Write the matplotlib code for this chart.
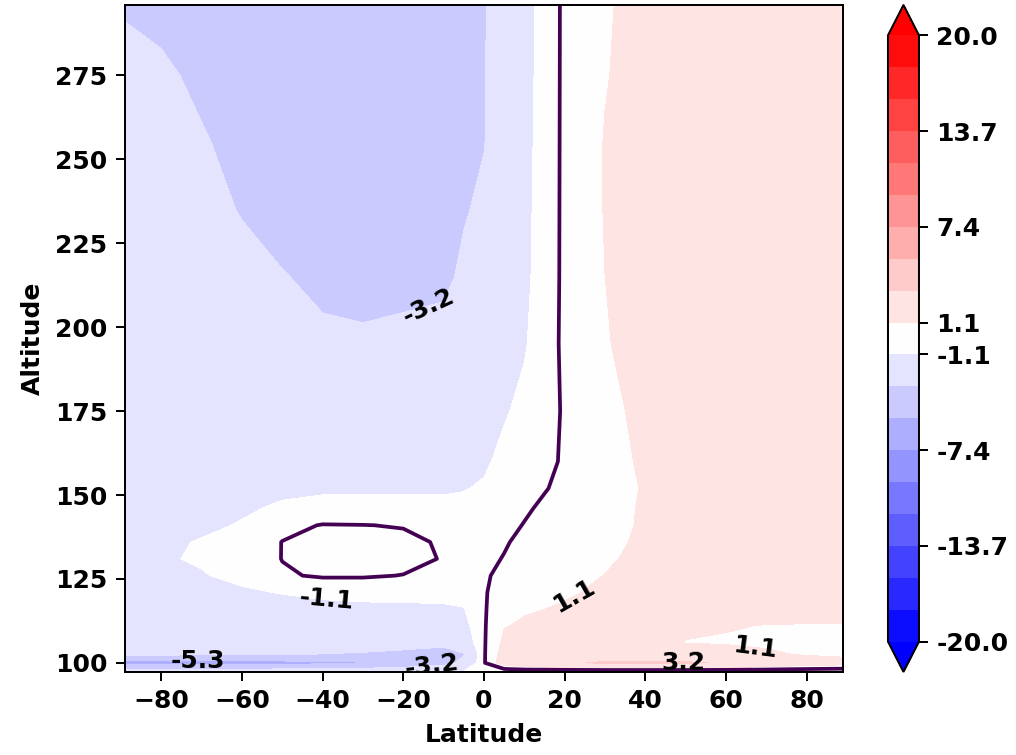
import matplotlib
matplotlib.use("Agg")
import matplotlib.pyplot as plt
import numpy as np

plt.rcParams["font.family"] = ["DejaVu Sans"]
plt.rcParams["font.weight"] = "bold"
plt.rcParams["axes.labelweight"] = "bold"
plt.rcParams["font.size"] = 10

# Grid of the zonal-mean field (latitude columns, altitude rows)
latitude = [-89, -80, -70, -60, -50, -40, -30, -20, -10, -5, 0,
            5, 10, 20, 30, 40, 50, 60, 70, 80, 89]
altitude = [97.3, 100, 102.5, 106, 111, 116, 121, 126, 131, 136, 141,
            146, 152, 160, 175, 195, 215, 235, 255, 275, 296]

# one row per altitude, bottom to top
field = [
    [-2.0, -2.0, -2.0, -1.9, -1.8, -1.7, -1.6, -1.4, -1.1, -0.9, -0.8, -0.9, -0.9, -0.9, -0.9, -0.9, -0.9, -0.9, -0.9, -0.9, -0.9],
    [-6.0, -6.0, -6.0, -5.95, -5.9, -5.7, -5.45, -4.8, -3.9, -2.6, -0.1, 1.8, 2.5, 3.0, 3.3, 3.35, 3.3, 3.05, 2.5, 1.9, 1.6],
    [-2.9, -2.95, -3.0, -3.05, -3.1, -3.2, -3.3, -3.45, -3.6, -3.3, -0.1, 1.6, 2.0, 2.3, 2.5, 2.5, 2.3, 1.6, 1.25, 0.95, 0.8],
    [-2.2, -2.2, -2.25, -2.3, -2.35, -2.45, -2.55, -2.7, -2.9, -2.0, -0.1, 1.3, 1.5, 1.6, 1.55, 1.4, 1.02, 0.95, 0.85, 0.85, 0.85],
    [-1.85, -1.85, -1.85, -1.85, -1.8, -1.75, -1.7, -1.65, -1.55, -1.45, -0.1, 1.0, 1.2, 1.3, 1.35, 1.3, 1.2, 1.12, 1.02, 1.0, 1.0],
    [-1.6, -1.6, -1.6, -1.55, -1.5, -1.45, -1.4, -1.35, -1.25, -1.1, -0.1, 0.7, 0.95, 1.15, 1.35, 1.45, 1.5, 1.45, 1.4, 1.4, 1.4],
    [-1.4, -1.4, -1.35, -1.2, -1.0, -0.75, -0.6, -0.6, -0.65, -0.7, -0.1, 0.5, 0.75, 0.95, 1.2, 1.4, 1.55, 1.6, 1.6, 1.65, 1.65],
    [-1.3, -1.25, -1.12, -0.8, -0.1, 0.1, 0.08, -0.02, -0.25, -0.35, -0.15, 0.3, 0.55, 0.8, 1.07, 1.3, 1.5, 1.6, 1.65, 1.7, 1.7],
    [-1.2, -1.15, -0.95, -0.6, 0.02, 0.3, 0.35, 0.25, -0.05, -0.2, -0.25, 0.05, 0.35, 0.65, 0.95, 1.25, 1.5, 1.6, 1.65, 1.7, 1.7],
    [-1.25, -1.2, -1.0, -0.7, 0.02, 0.25, 0.3, 0.2, -0.1, -0.3, -0.35, -0.1, 0.25, 0.55, 0.85, 1.2, 1.5, 1.6, 1.7, 1.7, 1.7],
    [-1.3, -1.3, -1.2, -1.0, -0.3, 0.05, 0.02, -0.05, -0.4, -0.55, -0.5, -0.2, 0.03, 0.45, 0.8, 1.15, 1.45, 1.6, 1.7, 1.7, 1.7],
    [-1.35, -1.35, -1.3, -1.15, -0.95, -0.85, -0.85, -0.85, -0.85, -0.8, -0.7, -0.4, -0.1, 0.35, 0.75, 1.15, 1.45, 1.6, 1.7, 1.7, 1.7],
    [-1.35, -1.35, -1.35, -1.3, -1.2, -1.15, -1.15, -1.15, -1.15, -1.1, -0.95, -0.6, -0.3, 0.2, 0.7, 1.12, 1.45, 1.6, 1.7, 1.7, 1.7],
    [-1.4, -1.45, -1.5, -1.6, -1.65, -1.65, -1.65, -1.6, -1.45, -1.3, -1.2, -0.8, -0.5, 0.1, 0.7, 1.2, 1.5, 1.6, 1.7, 1.7, 1.7],
    [-1.4, -1.5, -1.7, -1.9, -2.1, -2.2, -2.2, -2.1, -1.9, -1.7, -1.5, -1.15, -0.8, 0.1, 0.8, 1.3, 1.55, 1.65, 1.7, 1.7, 1.7],
    [-1.4, -1.6, -1.9, -2.3, -2.7, -2.95, -3.0, -2.9, -2.75, -2.4, -2.1, -1.75, -1.15, 0.2, 0.98, 1.45, 1.65, 1.7, 1.7, 1.7, 1.7],
    [-1.6, -1.8, -2.2, -2.65, -3.1, -3.4, -3.5, -3.45, -3.4, -2.95, -2.6, -2.1, -1.3, 0.2, 1.05, 1.5, 1.7, 1.75, 1.75, 1.75, 1.75],
    [-1.9, -2.2, -2.65, -3.25, -3.6, -3.85, -3.9, -3.8, -3.5, -3.25, -2.95, -2.3, -1.35, 0.2, 1.1, 1.5, 1.7, 1.75, 1.75, 1.75, 1.75],
    [-2.3, -2.6, -3.05, -3.5, -3.85, -3.95, -3.95, -3.85, -3.6, -3.4, -3.2, -2.4, -1.4, 0.2, 1.1, 1.5, 1.7, 1.75, 1.75, 1.75, 1.75],
    [-2.7, -2.95, -3.4, -3.75, -3.95, -4.0, -3.95, -3.85, -3.65, -3.45, -3.2, -2.5, -1.45, 0.2, 1.0, 1.45, 1.65, 1.7, 1.7, 1.7, 1.7],
    [-3.3, -3.5, -3.9, -4.0, -4.1, -4.1, -4.0, -3.9, -3.7, -3.5, -3.25, -2.6, -1.5, 0.2, 0.95, 1.4, 1.6, 1.7, 1.7, 1.7, 1.7],
]

# contour levels and the ones that get a label
levels = np.linspace(-20, 20, 20)
label_levels = levels[7:13]
cbar_ticks = [levels[0], levels[3], levels[6], levels[9],
              levels[10], levels[13], levels[16], levels[19]]
label_spots = [(-71, 100.4), (-14, 207), (-13, 100), (-39, 119.7),
               (23, 118), (49.5, 99.8), (67, 103)]

lat, alt = np.meshgrid(latitude, altitude)
z = np.array(field)

fig = plt.figure(figsize=(1016 / 180, 755 / 180), dpi=180)
ax = fig.add_axes([0.123, 0.110, 0.7067, 0.8834])
cax = fig.add_axes([0.874, 0.110, 0.0305, 0.8834])

cf = ax.contourf(lat, alt, z, levels=levels, cmap="bwr", extend="both")
cs = ax.contour(lat, alt, z, levels=label_levels, colors="none")
ax.clabel(cs, fmt="%.1f", colors="k", fontsize=10, manual=label_spots)
ax.contour(lat, alt, z, levels=[0], colors="#440154", linewidths=1.5)

ax.set_xticks(np.arange(-80, 81, 20))
ax.set_yticks(np.arange(100, 276, 25))
ax.set_xlabel("Latitude")
ax.set_ylabel("Altitude")

cbar = fig.colorbar(cf, cax=cax)
cbar.set_ticks(cbar_ticks, labels=[f"{t:.1f}" for t in cbar_ticks])

fig.savefig("out.png", dpi=180)
